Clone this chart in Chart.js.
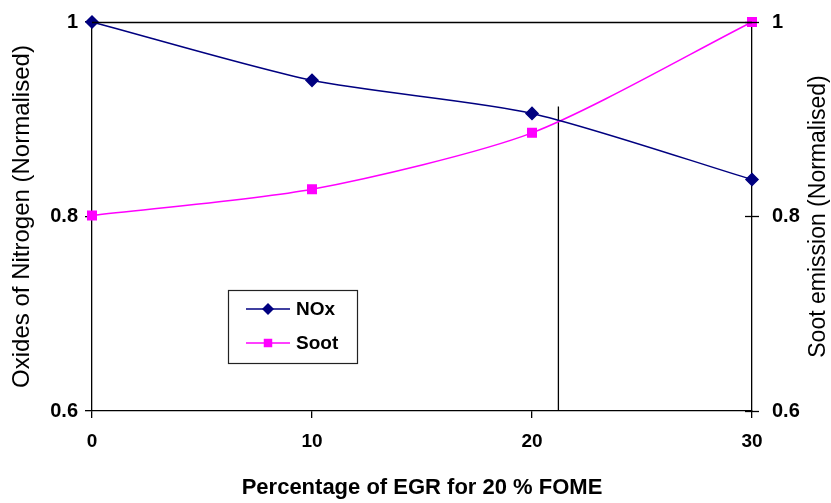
<!DOCTYPE html>
<html>
<head>
<meta charset="utf-8">
<script src="https://cdn.jsdelivr.net/npm/chart.js@4"></script>
<style>
  html, body { margin: 0; padding: 0; background: #fff; }
  #wrap { width: 831px; height: 503px; }
</style>
</head>
<body>
<div id="wrap"><canvas id="chart-egr"></canvas></div>
<script>
// EGR percentage vs normalised NOx and soot
var egr = [0, 10, 20, 30];
var nox = [1.0, 0.940, 0.906, 0.838];
var soot = [0.801, 0.828, 0.886, 1.0];
var crossX = [21.2, 21.2];
var crossY = [0.913, 0.6];
var yTicks = [0.6, 0.8, 1];

function pts(xs, ys) {
    return xs.map(function (x, i) { return { x: x, y: ys[i] }; });
}

function fmt(v) { return String(Math.round(v * 10) / 10); }

function fitY(width) {
    return function (s) {
        s.width = width;
        s.paddingTop = 0;
        s.paddingBottom = 0;
    };
}

var font = "'Liberation Sans', Arial, sans-serif";

var framePlugin = {
    id: 'frame',
    afterDatasetsDraw: function (chart) {
        var ctx = chart.ctx, a = chart.chartArea;
        var yR = chart.scales.yRight;
        ctx.save();
        ctx.strokeStyle = '#000';
        ctx.lineWidth = 1.3;
        // top line of the frame
        ctx.beginPath();
        ctx.moveTo(a.left, a.top + 0.5);
        ctx.lineTo(a.right, a.top + 0.5);
        ctx.stroke();
        // right axis ticks cross the axis
        yTicks.forEach(function (v) {
            var py = Math.round(yR.getPixelForValue(v)) + 0.5;
            ctx.beginPath();
            ctx.moveTo(a.right - 7, py);
            ctx.lineTo(a.right + 7, py);
            ctx.stroke();
        });

        // right axis title, reading bottom to top
        ctx.save();
        ctx.translate(chart.width - 12, (a.top + a.bottom) / 2);
        ctx.rotate(-Math.PI / 2);
        ctx.fillStyle = '#000';
        ctx.font = '23px ' + font;
        ctx.textAlign = 'center';
        ctx.textBaseline = 'middle';
        ctx.fillText('Soot emission (Normalised)', 0, 0);
        ctx.restore();

        // legend box
        var lx = a.left + 136, ly = a.top + 268, lw = 129, lh = 73;
        ctx.lineWidth = 1.2;
        ctx.strokeStyle = '#222';
        ctx.strokeRect(lx + 0.5, ly + 0.5, lw, lh);
        var items = [chart.data.datasets[0], chart.data.datasets[1]];
        items.forEach(function (ds, i) {
            var cy = ly + 19 + i * 34;
            ctx.strokeStyle = ds.borderColor;
            ctx.lineWidth = 1.5;
            ctx.beginPath();
            ctx.moveTo(lx + 18, cy);
            ctx.lineTo(lx + 62, cy);
            ctx.stroke();
            ctx.fillStyle = ds.borderColor;
            Chart.helpers.drawPoint(ctx, {
                pointStyle: ds.pointStyle,
                radius: ds.pointRadius,
                rotation: 0,
                borderWidth: 0
            }, lx + 40, cy);
            ctx.fillStyle = '#000';
            ctx.font = 'bold 19px ' + font;
            ctx.textBaseline = 'middle';
            ctx.textAlign = 'left';
            ctx.fillText(ds.label, lx + 68, cy + 1);
        });
        ctx.restore();
    }
};

new Chart(document.getElementById('chart-egr'), {
    type: 'line',
    data: {
        datasets: [{
            label: 'NOx',
            data: pts(egr, nox),
            borderColor: '#000080',
            backgroundColor: '#000080',
            borderWidth: 1.5,
            pointStyle: 'rectRot',
            pointRadius: 6,
            tension: 0.25,
            clip: false,
            yAxisID: 'y'
        },
        {
            label: 'Soot',
            data: pts(egr, soot),
            borderColor: '#ff00ff',
            backgroundColor: '#ff00ff',
            borderWidth: 1.5,
            pointStyle: 'rect',
            pointRadius: 6,
            tension: 0.25,
            clip: false,
            yAxisID: 'yRight'
        },
        {
            label: 'marker',
            data: pts(crossX, crossY),
            borderColor: '#000',
            borderWidth: 1.3,
            pointRadius: 0,
            yAxisID: 'y'
        }]
    },
    options: {
        responsive: true,
        maintainAspectRatio: false,
        animation: false,
        layout: { padding: { top: 22, right: 0, left: 0, bottom: 0 } },
        plugins: {
            legend: { display: false },
            tooltip: { enabled: false }
        },
        scales: {
            x: {
                type: 'linear',
                min: 0, max: 30,
                ticks: { stepSize: 10, color: '#000', padding: 12, font: { family: font, size: 19, weight: 'bold' } },
                grid: { drawOnChartArea: false, tickLength: 7, color: '#000', lineWidth: 1.3 },
                border: { color: '#000', width: 1.3 },
                title: { display: true, text: 'Percentage of EGR for 20 % FOME', color: '#000', padding: { bottom: 2 },
                         font: { family: font, size: 22, weight: 'bold' } },
                afterFit: function (s) { s.height = 92; s.paddingLeft = 0; s.paddingRight = 0; }
            },
            y: {
                position: 'left',
                min: 0.6, max: 1,
                afterBuildTicks: function (s) { s.ticks = yTicks.map(function (v) { return { value: v }; }); },
                ticks: { color: '#000', padding: 7, callback: fmt, font: { family: font, size: 20, weight: 'bold' } },
                grid: { drawOnChartArea: false, tickLength: 7, color: '#000', lineWidth: 1.3 },
                border: { color: '#000', width: 1.3 },
                title: { display: true, text: 'Oxides of Nitrogen (Normalised)', color: '#000', padding: { top: 8 },
                         font: { family: font, size: 24 } },
                afterFit: fitY(92)
            },
            yRight: {
                position: 'right',
                min: 0.6, max: 1,
                afterBuildTicks: function (s) { s.ticks = yTicks.map(function (v) { return { value: v }; }); },
                ticks: { color: '#000', padding: 20, callback: fmt, font: { family: font, size: 20, weight: 'bold' } },
                grid: { drawOnChartArea: false, drawTicks: false, tickLength: 7 },
                border: { color: '#000', width: 1.3 },
                afterFit: fitY(79)
            }
        }
    },
    plugins: [framePlugin]
});
</script>
</body>
</html>
